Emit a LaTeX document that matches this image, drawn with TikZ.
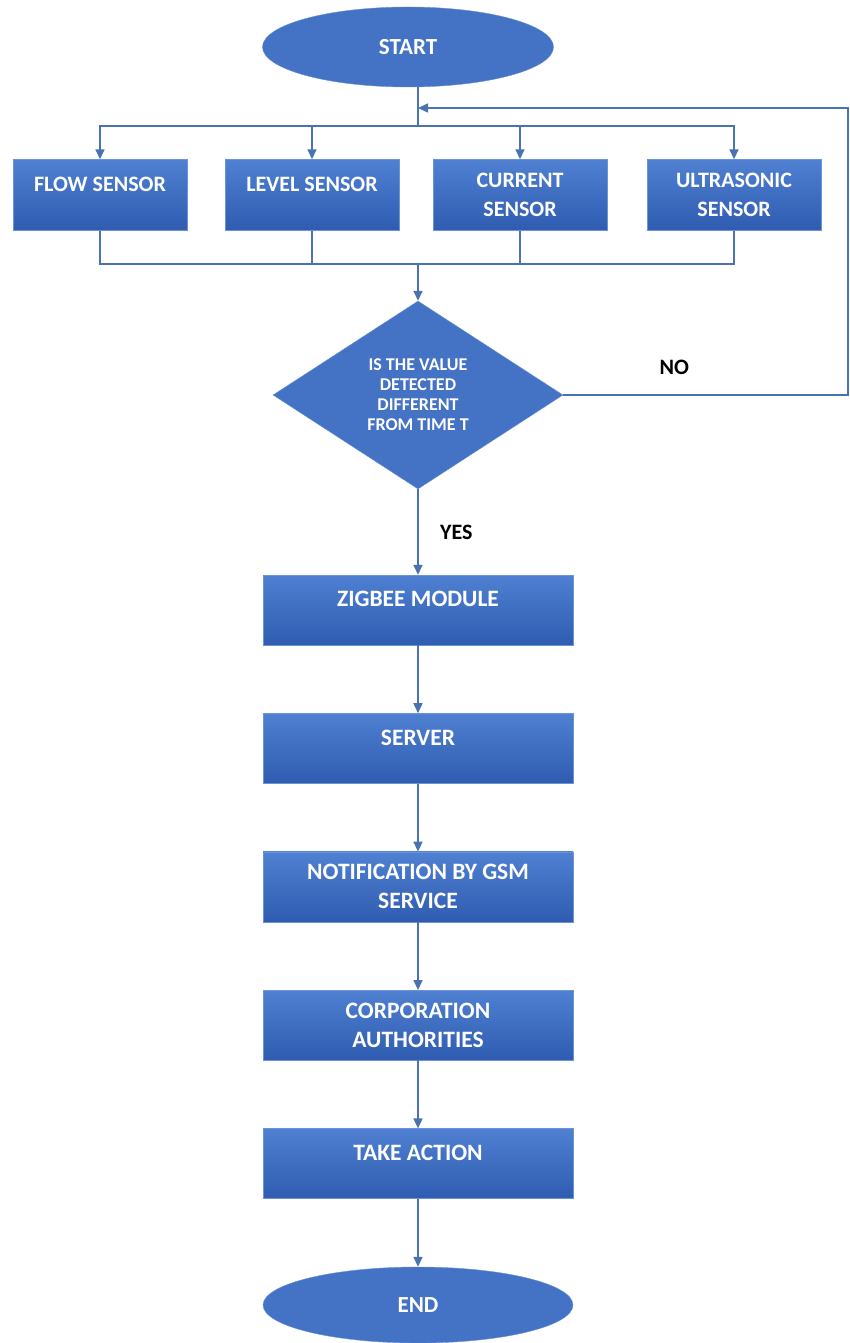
\documentclass[tikz,border=0pt]{standalone}
\usepackage{fontspec}
\setmainfont{Carlito}
\usetikzlibrary{arrows.meta,positioning,shapes.geometric}
\definecolor{boxblue}{HTML}{4472C4}
\definecolor{boxtop}{HTML}{4F80D2}
\definecolor{boxbot}{HTML}{2F5CB0}
\definecolor{boxedge}{HTML}{6A93D8}
\definecolor{linkblue}{HTML}{4873AE}

\begin{document}
\begin{tikzpicture}[
    x=1pt,y=-1pt,
    node distance=68pt,
    every node/.style={font=\fontsize{23.5}{29}\selectfont\bfseries,align=center},
    box/.style={draw=boxedge,top color=boxtop,bottom color=boxbot,text=white,minimum width=310pt,minimum height=70pt,inner sep=4pt},
    sensor/.style={box,minimum width=174pt,minimum height=71pt,font=\fontsize{22}{29}\selectfont\bfseries},
    oneline/.style={text depth=22pt},
    term/.style={ellipse,draw=boxedge,fill=boxblue,text=white,minimum width=291pt,minimum height=80pt,font=\fontsize{23}{27}\selectfont\bfseries},
    decision/.style={diamond,draw=boxedge,fill=boxblue,text=white,minimum width=290pt,minimum height=188pt,inner sep=0pt,font=\fontsize{18}{20}\selectfont\bfseries},
    answer/.style={text=black,font=\fontsize{22}{26}\selectfont\bfseries},
    line/.style={draw=linkblue,line width=1.6pt},
    arrow/.style={line,-{Triangle[length=10pt,width=9pt]}}
]
\useasboundingbox (0,0) rectangle (850,1343);
\node[term] (start) at (408,47) {START};
\coordinate (split) at (418,126);
\coordinate (merge) at (418,264);
\coordinate (loop) at (848,108);
\node[sensor,oneline] (flow) at (100,195) {FLOW SENSOR};
\node[sensor,oneline] (level) at (312,195) {LEVEL SENSOR};
\node[sensor] (current) at (520,195) {CURRENT\\SENSOR};
\node[sensor] (ultra) at (734,195) {ULTRASONIC\\SENSOR};
\node[decision] (check) at (418,395) {IS THE VALUE\\DETECTED\\DIFFERENT\\FROM TIME T};
\node[box,oneline] (zigbee) at (418,610) {ZIGBEE MODULE};
\node[box,oneline,below=of zigbee] (server) {SERVER};
\node[box,below=of server] (gsm) {NOTIFICATION BY GSM\\SERVICE};
\node[box,below=of gsm] (corp) {CORPORATION\\AUTHORITIES};
\node[box,oneline,below=of corp] (action) {TAKE ACTION};
\node[term,below=of action,minimum width=310pt,minimum height=76pt] (end) {END};
\draw[line] (start.south -| split) -- (split);
\foreach \s in {flow,level,current,ultra}{
  \draw[arrow] (split) -| (\s.north);
  \draw[line] (\s.south) |- (merge);
}
\draw[arrow] (merge) -- (check.north);
\draw[arrow] (check.east) -- node[answer,pos=0.39,above=16pt]{NO} (check.east -| loop) -- (loop) -- (split |- loop);
\draw[arrow] (check.south) -- node[answer,right=18pt]{YES} (zigbee.north);
\draw[arrow] (zigbee) -- (server);
\draw[arrow] (server) -- (gsm);
\draw[arrow] (gsm) -- (corp);
\draw[arrow] (corp) -- (action);
\draw[arrow] (action) -- (end);
\end{tikzpicture}
\end{document}
